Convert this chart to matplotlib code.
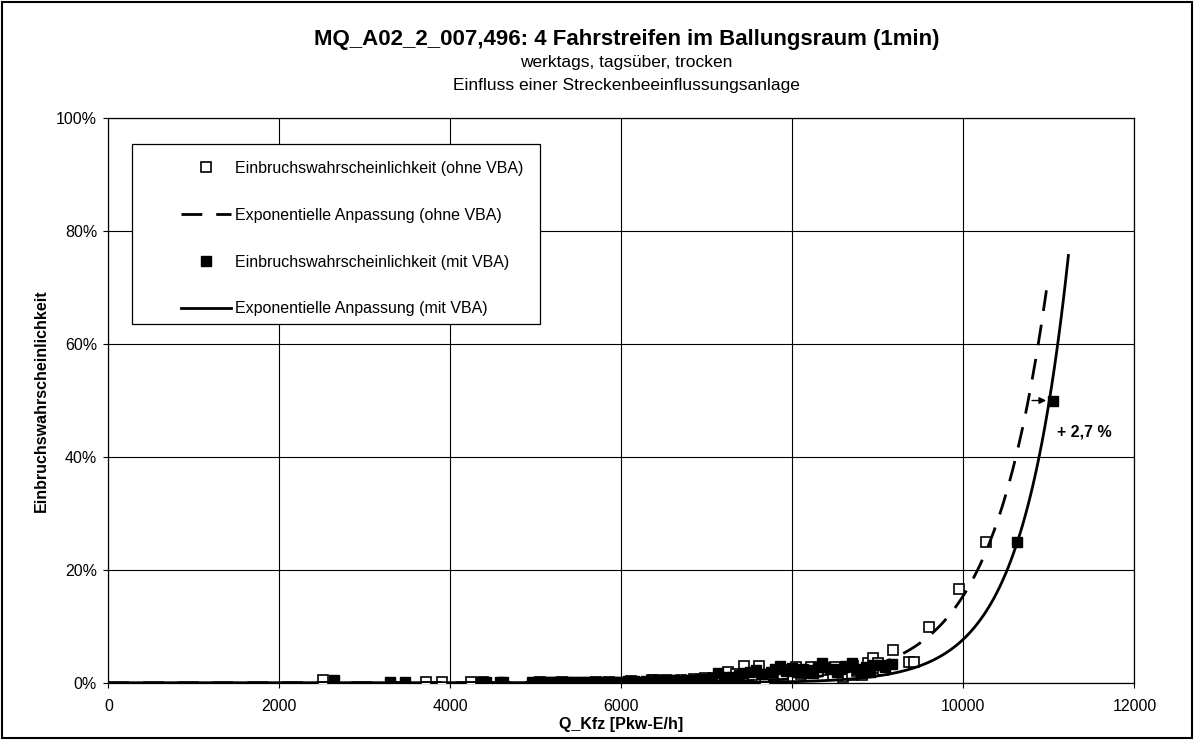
import numpy as np
import matplotlib
matplotlib.use("Agg")
import matplotlib.pyplot as plt
from matplotlib.patches import Rectangle

plt.rcParams['font.family'] = ['Liberation Sans', 'DejaVu Sans']

# Einbruchswahrscheinlichkeit ohne VBA (offene Quadrate), y in %
q_ohne = [2516, 3716, 3900, 4241, 4380, 5050, 5300, 5703, 5850, 6109, 6356, 6378, 6520,
          6700, 6850, 6980, 7080, 7150, 7251, 7340, 7439, 7530, 7614, 7681, 7760, 7895,
          7960, 8040, 8100, 8160, 8215, 8300, 8420, 8480, 8500, 8597, 8650, 8695, 8713,
          8760, 8811, 8882, 8940, 8999, 9006, 9060, 9181, 9368, 9427, 9602, 9953, 10262]
p_ohne = [0.5, 0.1, 0.1, 0.1, 0.1, 0.1, 0.1, 0.2, 0.2, 0.3, 0.4, 0.5, 0.4,
          0.5, 0.6, 0.8, 0.9, 1.2, 1.95, 1.5, 3.0, 1.3, 3.0, 0.5, 1.6, 1.05,
          2.2, 2.8, 1.6, 1.95, 2.8, 2.0, 2.3, 1.35, 2.8, 1.05, 1.6, 1.35, 3.0,
          2.0, 1.35, 3.5, 4.3, 2.55, 3.5, 2.2, 5.8, 3.6, 3.6, 9.9, 16.6, 25.0]

# Einbruchswahrscheinlichkeit mit VBA (gefuellte Quadrate), y in %
q_mit = [2636, 3295, 3475, 4353, 4420, 4586, 4620, 4960, 5010, 5060, 5110, 5160, 5210,
         5260, 5320, 5380, 5440, 5500, 5560, 5620, 5680, 5760, 5820, 5900, 5960, 6020,
         6080, 6150, 6220, 6290, 6350, 6430, 6500, 6560, 6620, 6680, 6765, 6850, 6921,
         7000, 7060, 7135, 7200, 7310, 7380, 7420, 7505, 7580, 7650, 7748, 7800, 7856,
         7920, 7990, 8051, 8120, 8180, 8246, 8300, 8344, 8383, 8440, 8519, 8560, 8616,
         8695, 8750, 8811, 8860, 8909, 8947, 9025, 9084, 9162, 10624, 11045]
p_mit = [0.5, 0.2, 0.1, 0.1, 0.1, 0.1, 0.1, 0.1, 0.1, 0.1, 0.1, 0.1, 0.1,
         0.1, 0.1, 0.1, 0.1, 0.1, 0.1, 0.1, 0.2, 0.1, 0.2, 0.2, 0.2, 0.2,
         0.3, 0.3, 0.2, 0.3, 0.3, 0.4, 0.3, 0.4, 0.4, 0.3, 0.5, 0.4, 0.6,
         0.7, 0.8, 1.65, 1.0, 1.05, 1.3, 1.7, 1.95, 2.2, 1.5, 1.95, 2.5, 3.0,
         2.0, 2.6, 1.95, 2.4, 2.2, 1.65, 2.7, 3.5, 2.8, 2.5, 1.95, 2.4, 3.0,
         3.5, 2.4, 1.95, 2.8, 1.95, 3.1, 3.1, 2.8, 3.4, 25.0, 50.0]

# exponentielle Anpassung: p = p0 * exp(b * (q - q0))
fit_ohne = dict(q0=10758, p0=50.0, b=0.00155, qmax=10990)
fit_mit = dict(q0=11005, p0=50.0, b=0.00186, qmax=11228)

x_ticks = [0, 2000, 4000, 6000, 8000, 10000, 12000]
y_ticks = [0, 20, 40, 60, 80, 100]


def exp_fit(f):
    q = np.linspace(0, f['qmax'], 400)
    return q, f['p0'] * np.exp(f['b'] * (q - f['q0']))


fig = plt.figure(figsize=(11.96, 7.40), dpi=100)
ax = fig.add_axes([0.0906, 0.0774, 0.8579, 0.7627])

xo, yo = exp_fit(fit_ohne)
xm, ym = exp_fit(fit_mit)

ax.plot(q_ohne, p_ohne, linestyle='none', marker='s', markersize=6.5,
        markerfacecolor='white', markeredgecolor='black', markeredgewidth=1.2,
        zorder=3, label='Einbruchswahrscheinlichkeit (ohne VBA)')
ax.plot(xo, yo, color='black', linewidth=2.0, dashes=(7.5, 5), zorder=4,
        label='Exponentielle Anpassung (ohne VBA)')
ax.plot(q_mit, p_mit, linestyle='none', marker='s', markersize=6.5,
        markerfacecolor='black', markeredgecolor='black', zorder=3,
        label='Einbruchswahrscheinlichkeit (mit VBA)')
ax.plot(xm, ym, color='black', linewidth=2.0, zorder=4,
        label='Exponentielle Anpassung (mit VBA)')

ax.annotate('', xy=(11000, 50), xytext=(10770, 50),
            arrowprops=dict(arrowstyle='-|>', color='black', lw=1, mutation_scale=10),
            zorder=5)
ax.text(11095, 44.5, '+ 2,7 %', fontsize=11.5, fontweight='bold', va='center', ha='left')

ax.set_xlim(0, 12000)
ax.set_ylim(0, 100)
ax.set_xticks(x_ticks)
ax.set_yticks(y_ticks)
ax.set_xticklabels([str(v) for v in x_ticks], fontsize=11.5)
ax.set_yticklabels([f'{v}%' for v in y_ticks], fontsize=11.5)
ax.tick_params(direction='out', length=3.6, width=0.8, color='black')
ax.tick_params(axis='x', pad=8)
ax.tick_params(axis='y', pad=4.5)
ax.grid(True, color='black', linewidth=0.8)
ax.set_axisbelow(True)
for s in ax.spines.values():
    s.set_color('black')
    s.set_linewidth(0.9)

ax.set_xlabel('Q_Kfz [Pkw-E/h]', fontsize=11.5, fontweight='bold', labelpad=2)
ax.set_ylabel('Einbruchswahrscheinlichkeit', fontsize=11.5, fontweight='bold')
ax.yaxis.set_label_coords(-0.058, 0.5)

# Legendenrahmen separat, Inhalt ohne Rahmen eingerueckt
ax.add_patch(Rectangle((0.0231, 0.6355), 0.3977, 0.319, transform=ax.transAxes,
                       facecolor='white', edgecolor='black', linewidth=0.9, zorder=6))
leg = ax.legend(loc='upper left', bbox_to_anchor=(0.0709, 0.925), fontsize=11.5,
                frameon=False, labelspacing=2.0, handlelength=3.1, handletextpad=0.3,
                borderpad=0, borderaxespad=0)
leg.set_zorder(7)

fig.text(0.524, 0.946, 'MQ_A02_2_007,496: 4 Fahrstreifen im Ballungsraum (1min)',
         ha='center', va='center', fontsize=16, fontweight='bold')
fig.text(0.524, 0.915, 'werktags, tagsüber, trocken', ha='center', va='center', fontsize=12.5)
fig.text(0.524, 0.884, 'Einfluss einer Streckenbeeinflussungsanlage',
         ha='center', va='center', fontsize=12.5)

fig.patches.append(Rectangle((0.002, 0.003), 0.995, 0.994, transform=fig.transFigure,
                             fill=False, edgecolor='black', linewidth=1.5))

fig.savefig('out.png', dpi=100)
